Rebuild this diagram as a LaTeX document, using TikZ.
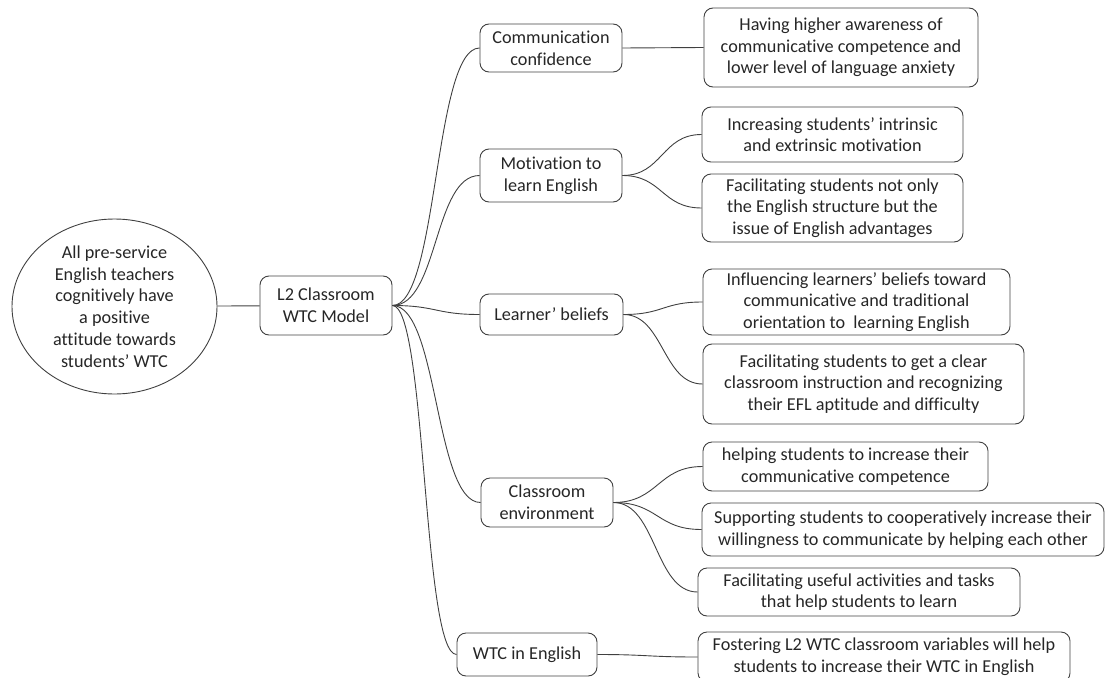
\documentclass[tikz,border=0pt]{standalone}
\usepackage{fontspec}
\setmainfont{Carlito}[Ligatures={TeX,NoCommon}]
\usetikzlibrary{shapes.geometric}

\begin{document}
\begin{tikzpicture}[x=1pt,y=-1pt,font=\fontsize{18.2}{21.7}\selectfont,
  color=black!75,text=black!85,line width=0.9pt,
  bx/.style={draw,rounded corners=9pt,align=center,inner sep=2pt},
  ov/.style={draw,ellipse,align=center,inner sep=0pt,minimum width=205pt,minimum height=175pt},
  curl/.style={to path={.. controls +(#1,0) and +(-#1,0) .. (\tikztotarget)}}]
\useasboundingbox (0,0) rectangle (1105,677);
\clip (0,0) rectangle (1105,677);
% root and model
\node[ov] (root) at (114.5,306.5) {All pre-service\\English teachers\\cognitively have\\a positive\\attitude towards\\students’ WTC};
\node[bx,minimum width=132pt,minimum height=59pt] (model) at (326,305.5) {L2 Classroom\\WTC Model};
\draw (root) -- (model);
% branches
\node[bx,minimum width=142pt,minimum height=48pt] (conf) at (551,48) {Communication\\confidence};
\node[bx,minimum width=142pt,minimum height=53pt] (motiv) at (551,175.5) {Motivation to\\learn English};
\node[bx,minimum width=143pt,minimum height=41pt] (belief) at (551.5,314.5) {Learner’ beliefs};
\node[bx,minimum width=132pt,minimum height=49pt] (env) at (547,502.5) {Classroom\\environment};
\node[bx,minimum width=140pt,minimum height=43pt] (wtc) at (527,654.5) {WTC in English};
\draw (model.east) to[curl=46] (conf.west);
\draw (model.east) to[curl=46] (motiv.west);
\draw (model.east) to[curl=44] (belief.west);
\draw (model.east) to[curl=46] (env.west);
\draw (model.east) to[curl=34] (wtc.west);
% leaves
\node[bx,minimum width=274pt,minimum height=79pt] (aware) at (841,47.5) {Having higher awareness of\\communicative competence and\\lower level of language anxiety};
\node[bx,minimum width=261pt,minimum height=55pt] (intr) at (832.5,134.5) {Increasing students’ intrinsic\\and extrinsic motivation};
\node[bx,minimum width=261pt,minimum height=68pt] (struct) at (832.5,208) {Facilitating students not only\\the English structure but the\\issue of English advantages};
\node[bx,minimum width=307pt,minimum height=66pt] (orient) at (856.5,302) {Influencing learners’ beliefs toward\\communicative and traditional\\orientation to\ \ learning English};
\node[bx,minimum width=321pt,minimum height=80pt] (instr) at (863.5,384) {Facilitating students to get a clear\\classroom instruction and recognizing\\their EFL aptitude and difficulty};
\node[bx,minimum width=285pt,minimum height=49pt] (compet) at (845.5,466.5) {helping students to increase their\\communicative competence};
\node[bx,minimum width=402pt,minimum height=53pt] (coop) at (903,529.5) {Supporting students to cooperatively increase their\\willingness to communicate by helping each other};
\node[bx,minimum width=322pt,minimum height=48pt] (tasks) at (859,592) {Facilitating useful activities and tasks\\that help students to learn};
\node[bx,minimum width=372pt,minimum height=50pt] (foster) at (884,657) {Fostering L2 WTC classroom variables will help\\students to increase their WTC in English};
\draw (conf.east) to[curl=40] (aware.west);
\draw (motiv.east) to[curl=40] (intr.west);\draw (motiv.east) to[curl=40] (struct.west);
\draw (belief.east) to[curl=40] (orient.west);\draw (belief.east) to[curl=40] (instr.west);
\draw (env.east) to[curl=45] (compet.west);\draw (env.east) to[curl=45] (coop.west);\draw (env.east) to[curl=43] (tasks.west);
\draw (wtc.east) to[curl=50] (foster.west);
\end{tikzpicture}
\end{document}
